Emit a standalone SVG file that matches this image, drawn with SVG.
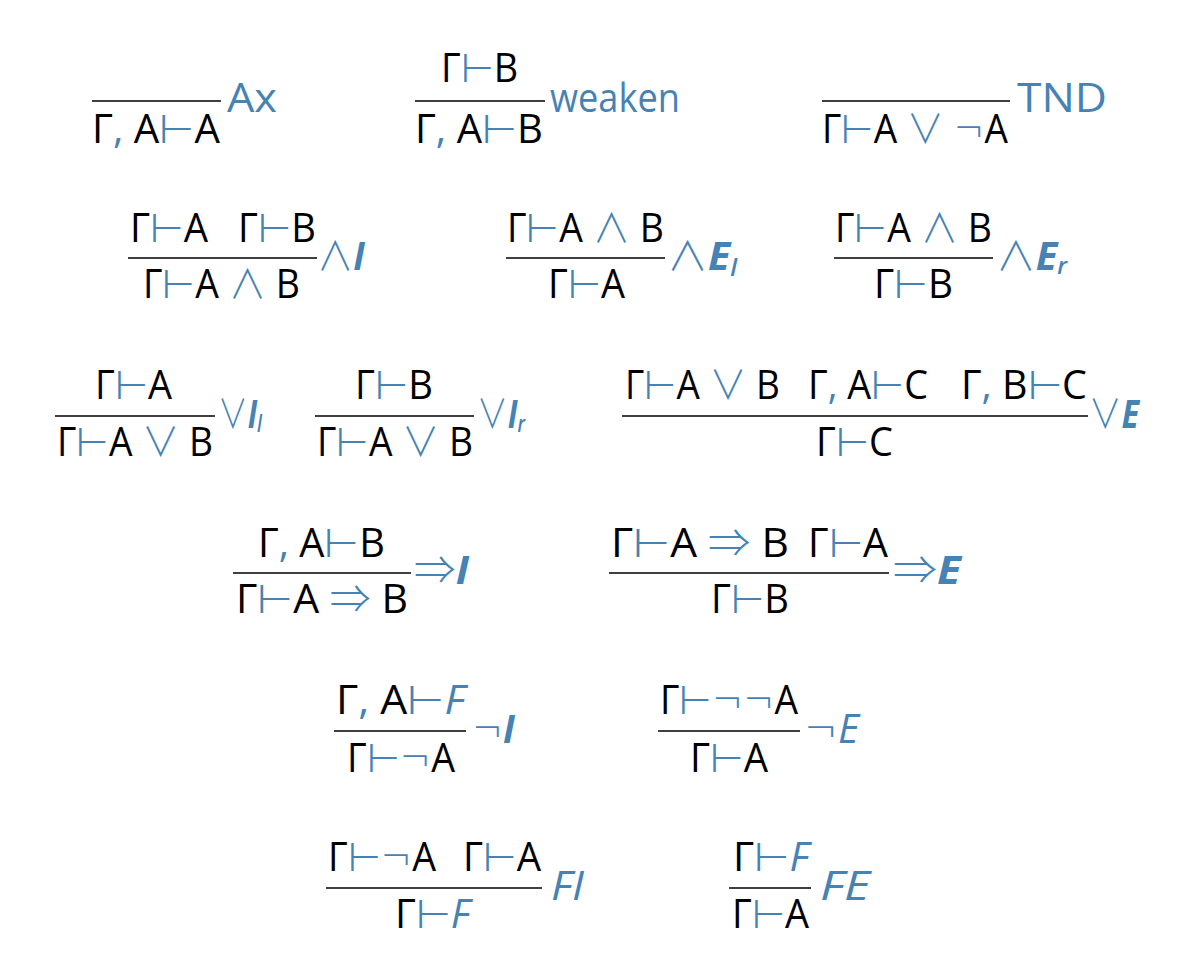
<svg xmlns="http://www.w3.org/2000/svg" width="1200" height="965" viewBox="0 0 1200 965">
<style>
text { font-family: "Open Sans", "Noto Sans", "DejaVu Sans", sans-serif; font-size: 40px; fill: #000; }
.b { fill: #4682b4; }
.m { font-family: "DejaVu Sans", sans-serif; font-weight: 200; fill: #4682b4; }
.o { font-family: "Noto Sans CJK JP", "Noto Sans CJK SC", "DejaVu Sans", sans-serif; font-weight: 300; fill: #4682b4; }
.it { font-style: italic; }
.lb { fill: #4682b4; }
.lbi { fill: #4682b4; font-style: italic; font-weight: 700; }
.lfi { fill: #4682b4; font-style: italic; font-weight: 400; }
.sub { font-size: 24px; fill: #4682b4; font-style: italic; font-weight: 600; }
.bar { stroke: #000; stroke-width: 1.6; }
</style>
<rect width="1200" height="965" fill="#fff"/>

<g id="rule-ax">
  <line class="bar" x1="92" y1="101" x2="221" y2="101"/>
  <text x="92" y="143" textLength="128" lengthAdjust="spacingAndGlyphs">Γ<tspan class="b">, </tspan>A<tspan class="m">⊢</tspan>A</text>
  <text class="lb" x="227" y="112" textLength="50" lengthAdjust="spacingAndGlyphs">Ax</text>
</g>

<g id="rule-weaken">
  <text x="441" y="82" textLength="77" lengthAdjust="spacingAndGlyphs">Γ<tspan class="m">⊢</tspan>B</text>
  <line class="bar" x1="415" y1="101" x2="545" y2="101"/>
  <text x="415" y="143" textLength="128" lengthAdjust="spacingAndGlyphs">Γ<tspan class="b">, </tspan>A<tspan class="m">⊢</tspan>B</text>
  <text class="lb" x="550" y="112" textLength="130" lengthAdjust="spacingAndGlyphs">weaken</text>
</g>

<g id="rule-tnd">
  <line class="bar" x1="822" y1="101" x2="1010" y2="101"/>
  <text x="822" y="143" textLength="186" lengthAdjust="spacingAndGlyphs">Γ<tspan class="m">⊢</tspan>A <tspan class="o">∨</tspan> <tspan class="m">¬</tspan>A</text>
  <text class="lb" x="1017" y="112" textLength="90" lengthAdjust="spacingAndGlyphs">TND</text>
</g>

<g id="rule-and-i">
  <text x="130" y="242" textLength="78" lengthAdjust="spacingAndGlyphs">Γ<tspan class="m">⊢</tspan>A</text>
  <text x="238" y="242" textLength="78" lengthAdjust="spacingAndGlyphs">Γ<tspan class="m">⊢</tspan>B</text>
  <line class="bar" x1="128" y1="258" x2="317" y2="258"/>
  <text x="143" y="298" textLength="157" lengthAdjust="spacingAndGlyphs">Γ<tspan class="m">⊢</tspan>A <tspan class="o">∧</tspan> B</text>
  <text x="317" y="270" textLength="48" lengthAdjust="spacingAndGlyphs"><tspan class="o">∧</tspan><tspan class="lbi">I</tspan></text>
</g>

<g id="rule-and-el">
  <text x="507" y="242" textLength="157" lengthAdjust="spacingAndGlyphs">Γ<tspan class="m">⊢</tspan>A <tspan class="o">∧</tspan> B</text>
  <line class="bar" x1="506" y1="258" x2="665" y2="258"/>
  <text x="548" y="298" textLength="77" lengthAdjust="spacingAndGlyphs">Γ<tspan class="m">⊢</tspan>A</text>
  <text x="667" y="270" textLength="70" lengthAdjust="spacingAndGlyphs"><tspan class="o">∧</tspan><tspan class="lbi">E</tspan><tspan class="sub" dy="6">l</tspan></text>
</g>

<g id="rule-and-er">
  <text x="835" y="242" textLength="157" lengthAdjust="spacingAndGlyphs">Γ<tspan class="m">⊢</tspan>A <tspan class="o">∧</tspan> B</text>
  <line class="bar" x1="834" y1="258" x2="993" y2="258"/>
  <text x="874" y="298" textLength="79" lengthAdjust="spacingAndGlyphs">Γ<tspan class="m">⊢</tspan>B</text>
  <text x="996" y="270" textLength="71" lengthAdjust="spacingAndGlyphs"><tspan class="o">∧</tspan><tspan class="lbi">E</tspan><tspan class="sub" dy="4">r</tspan></text>
</g>

<g id="rule-or-il">
  <text x="95" y="399" textLength="77" lengthAdjust="spacingAndGlyphs">Γ<tspan class="m">⊢</tspan>A</text>
  <line class="bar" x1="55" y1="416" x2="215" y2="416"/>
  <text x="57" y="456" textLength="156" lengthAdjust="spacingAndGlyphs">Γ<tspan class="m">⊢</tspan>A <tspan class="o">∨</tspan> B</text>
  <text x="218" y="428" textLength="44" lengthAdjust="spacingAndGlyphs"><tspan class="o">∨</tspan><tspan class="lbi">I</tspan><tspan class="sub" dy="4">l</tspan></text>
</g>

<g id="rule-or-ir">
  <text x="355" y="399" textLength="78" lengthAdjust="spacingAndGlyphs">Γ<tspan class="m">⊢</tspan>B</text>
  <line class="bar" x1="315" y1="416" x2="474" y2="416"/>
  <text x="317" y="456" textLength="156" lengthAdjust="spacingAndGlyphs">Γ<tspan class="m">⊢</tspan>A <tspan class="o">∨</tspan> B</text>
  <text x="477" y="428" textLength="48" lengthAdjust="spacingAndGlyphs"><tspan class="o">∨</tspan><tspan class="lbi">I</tspan><tspan class="sub" dy="4">r</tspan></text>
</g>

<g id="rule-or-e">
  <text x="625" y="399" textLength="155" lengthAdjust="spacingAndGlyphs">Γ<tspan class="m">⊢</tspan>A <tspan class="o">∨</tspan> B</text>
  <text x="808" y="399" textLength="120" lengthAdjust="spacingAndGlyphs">Γ<tspan class="b">, </tspan>A<tspan class="m">⊢</tspan>C</text>
  <text x="961" y="399" textLength="126" lengthAdjust="spacingAndGlyphs">Γ<tspan class="b">, </tspan>B<tspan class="m">⊢</tspan>C</text>
  <line class="bar" x1="622" y1="416" x2="1088" y2="416"/>
  <text x="816" y="456" textLength="77" lengthAdjust="spacingAndGlyphs">Γ<tspan class="m">⊢</tspan>C</text>
  <text x="1089" y="428" textLength="50" lengthAdjust="spacingAndGlyphs"><tspan class="o">∨</tspan><tspan class="lbi">E</tspan></text>
</g>

<g id="rule-imp-i">
  <text x="258" y="557" textLength="127" lengthAdjust="spacingAndGlyphs">Γ<tspan class="b">, </tspan>A<tspan class="m">⊢</tspan>B</text>
  <line class="bar" x1="233" y1="573" x2="411" y2="573"/>
  <text x="236" y="613" textLength="172" lengthAdjust="spacingAndGlyphs">Γ<tspan class="m">⊢</tspan>A <tspan class="o">⇒</tspan> B</text>
  <text x="414" y="584" textLength="55" lengthAdjust="spacingAndGlyphs"><tspan class="o">⇒</tspan><tspan class="lbi">I</tspan></text>
</g>

<g id="rule-imp-e">
  <text x="611" y="557" textLength="178" lengthAdjust="spacingAndGlyphs">Γ<tspan class="m">⊢</tspan>A <tspan class="o">⇒</tspan> B</text>
  <text x="808" y="557" textLength="80" lengthAdjust="spacingAndGlyphs">Γ<tspan class="m">⊢</tspan>A</text>
  <line class="bar" x1="609" y1="573" x2="889" y2="573"/>
  <text x="711" y="613" textLength="78" lengthAdjust="spacingAndGlyphs">Γ<tspan class="m">⊢</tspan>B</text>
  <text x="893" y="584" textLength="68" lengthAdjust="spacingAndGlyphs"><tspan class="o">⇒</tspan><tspan class="lbi">E</tspan></text>
</g>

<g id="rule-not-i">
  <text x="336" y="714" textLength="129" lengthAdjust="spacingAndGlyphs">Γ<tspan class="b">, </tspan>A<tspan class="m">⊢</tspan><tspan class="b it">F</tspan></text>
  <line class="bar" x1="334" y1="731" x2="466" y2="731"/>
  <text x="347" y="772" textLength="108" lengthAdjust="spacingAndGlyphs">Γ<tspan class="m">⊢¬</tspan>A</text>
  <text x="472" y="743" textLength="43" lengthAdjust="spacingAndGlyphs"><tspan class="m">¬</tspan><tspan class="lbi">I</tspan></text>
</g>

<g id="rule-not-e">
  <text x="660" y="714" textLength="138" lengthAdjust="spacingAndGlyphs">Γ<tspan class="m">⊢¬¬</tspan>A</text>
  <line class="bar" x1="658" y1="731" x2="800" y2="731"/>
  <text x="690" y="772" textLength="78" lengthAdjust="spacingAndGlyphs">Γ<tspan class="m">⊢</tspan>A</text>
  <text x="804" y="743" textLength="55" lengthAdjust="spacingAndGlyphs"><tspan class="m">¬</tspan><tspan class="lfi">E</tspan></text>
</g>

<g id="rule-f-i">
  <text x="328" y="871" textLength="108" lengthAdjust="spacingAndGlyphs">Γ<tspan class="m">⊢¬</tspan>A</text>
  <text x="463" y="871" textLength="78" lengthAdjust="spacingAndGlyphs">Γ<tspan class="m">⊢</tspan>A</text>
  <line class="bar" x1="326" y1="888" x2="542" y2="888"/>
  <text x="395" y="928" textLength="75" lengthAdjust="spacingAndGlyphs">Γ<tspan class="m">⊢</tspan><tspan class="b it">F</tspan></text>
  <text class="lfi" x="551" y="900" textLength="33" lengthAdjust="spacingAndGlyphs">FI</text>
</g>

<g id="rule-f-e">
  <text x="733" y="871" textLength="76" lengthAdjust="spacingAndGlyphs">Γ<tspan class="m">⊢</tspan><tspan class="b it">F</tspan></text>
  <line class="bar" x1="729" y1="888" x2="811" y2="888"/>
  <text x="732" y="928" textLength="77" lengthAdjust="spacingAndGlyphs">Γ<tspan class="m">⊢</tspan>A</text>
  <text class="lfi" x="820" y="900" textLength="50" lengthAdjust="spacingAndGlyphs">FE</text>
</g>

<g id="connectors"></g>
</svg>
